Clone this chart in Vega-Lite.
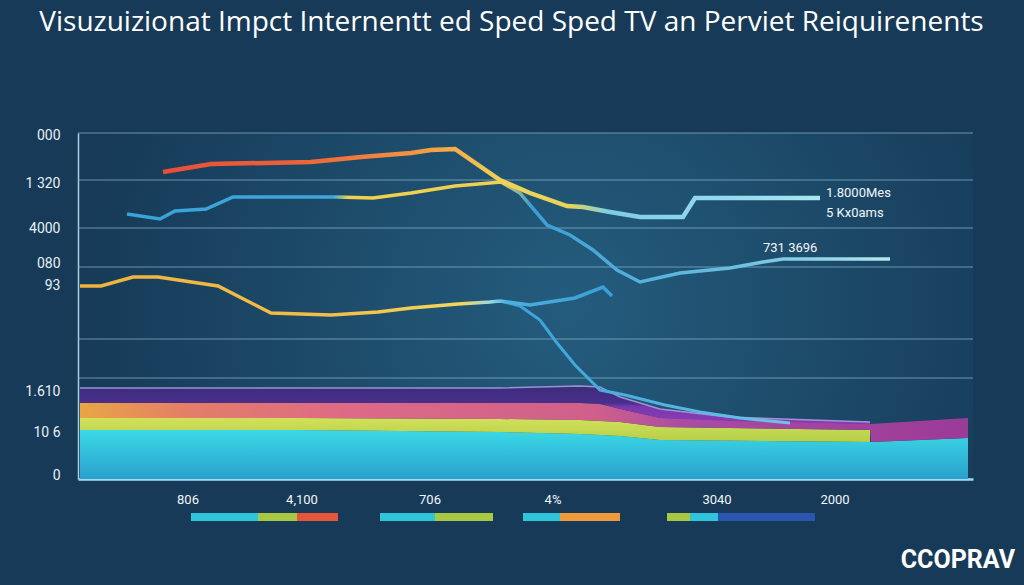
{
  "$schema": "https://vega.github.io/schema/vega-lite/v6.json",
  "width": 895,
  "height": 346,
  "autosize": {"type": "none"},
  "padding": {"left": 78, "top": 133, "right": 51, "bottom": 106},
  "background": "#163a57",
  "config": {
    "view": {
      "stroke": null,
      "fill": {"gradient": "radial", "x1": 0.55, "y1": 0.5, "r1": 0, "x2": 0.55, "y2": 0.5, "r2": 0.55,
        "stops": [{"offset": 0, "color": "#245c7d"}, {"offset": 1, "color": "#163a57"}]}
    },
    "font": "Open Sans"
  },
  "title": {
    "text": "Visuzuizionat Impct  Internentt ed Sped Sped TV an Perviet Reiquirenents",
    "fontSize": 28,
    "fontWeight": 500,
    "color": "#ffffff",
    "font": "Open Sans",
    "anchor": "middle",
    "frame": "group",
    "dx": -14,
    "offset": 91
  },
  "datasets": {
    "grid": [{"g": 346}, {"g": 299}, {"g": 251}, {"g": 212}, {"g": 140}, {"g": 101}],
    "cyan": [{"x": 2, "lo": 0, "hi": 49}, {"x": 222, "lo": 0, "hi": 49}, {"x": 422, "lo": 0, "hi": 47}, {"x": 502, "lo": 0, "hi": 45}, {"x": 542, "lo": 0, "hi": 43}, {"x": 582, "lo": 0, "hi": 39}, {"x": 792, "lo": 0, "hi": 37}, {"x": 890, "lo": 0, "hi": 41}],
    "yellow": [{"x": 2, "lo": 49, "hi": 61}, {"x": 222, "lo": 49, "hi": 61}, {"x": 422, "lo": 47, "hi": 60}, {"x": 502, "lo": 45, "hi": 59}, {"x": 542, "lo": 43, "hi": 57}, {"x": 582, "lo": 39, "hi": 52}, {"x": 792, "lo": 37, "hi": 49}],
    "pink": [{"x": 2, "lo": 61, "hi": 76}, {"x": 222, "lo": 61, "hi": 76}, {"x": 422, "lo": 60, "hi": 76}, {"x": 502, "lo": 59, "hi": 76}, {"x": 522, "lo": 58, "hi": 75}, {"x": 542, "lo": 57, "hi": 70}, {"x": 582, "lo": 52, "hi": 61}, {"x": 792, "lo": 49, "hi": 55}, {"x": 793, "lo": 37, "hi": 55}, {"x": 890, "lo": 41, "hi": 61}],
    "purple": [{"x": 2, "lo": 76, "hi": 91}, {"x": 422, "lo": 76, "hi": 91}, {"x": 502, "lo": 76, "hi": 93}, {"x": 522, "lo": 75, "hi": 92}, {"x": 542, "lo": 70, "hi": 82}, {"x": 582, "lo": 61, "hi": 70}, {"x": 650, "lo": 58, "hi": 62}, {"x": 792, "lo": 55, "hi": 57}],
    "line1": [{"x": 85, "y": 307}, {"x": 133, "y": 315}, {"x": 233, "y": 317}, {"x": 283, "y": 322}, {"x": 333, "y": 326}, {"x": 353, "y": 329}, {"x": 377, "y": 330}, {"x": 422, "y": 299}, {"x": 452, "y": 286}, {"x": 489, "y": 273}, {"x": 505, "y": 272}, {"x": 532, "y": 267}, {"x": 562, "y": 262}, {"x": 605, "y": 262}, {"x": 617, "y": 281}, {"x": 742, "y": 281}],
    "line2": [{"x": 49, "y": 265}, {"x": 82, "y": 260}, {"x": 97, "y": 268}, {"x": 128, "y": 270}, {"x": 155, "y": 282}, {"x": 258, "y": 282}, {"x": 295, "y": 281}, {"x": 333, "y": 286}, {"x": 377, "y": 293}, {"x": 423, "y": 297}, {"x": 442, "y": 286}, {"x": 469, "y": 254}, {"x": 492, "y": 244}, {"x": 515, "y": 229}, {"x": 539, "y": 209}, {"x": 562, "y": 197}, {"x": 602, "y": 206}, {"x": 652, "y": 211}, {"x": 685, "y": 217}, {"x": 705, "y": 220}, {"x": 812, "y": 220}],
    "line3": [{"x": 2, "y": 193}, {"x": 23, "y": 193}, {"x": 55, "y": 202}, {"x": 80, "y": 202}, {"x": 140, "y": 193}, {"x": 193, "y": 166}, {"x": 253, "y": 164}, {"x": 300, "y": 167}, {"x": 333, "y": 171}, {"x": 380, "y": 175}, {"x": 412, "y": 177}, {"x": 422, "y": 178}, {"x": 452, "y": 174}, {"x": 497, "y": 181}, {"x": 525, "y": 192}, {"x": 534, "y": 183}],
    "line4": [{"x": 422, "y": 178}, {"x": 442, "y": 173}, {"x": 462, "y": 159}, {"x": 479, "y": 136}, {"x": 497, "y": 114}, {"x": 512, "y": 99}, {"x": 522, "y": 89}, {"x": 547, "y": 84}, {"x": 587, "y": 74}, {"x": 622, "y": 67}, {"x": 662, "y": 61}, {"x": 712, "y": 56}],
    "bars": [
      {"k": "c", "a": 113, "b": 180}, {"k": "g", "a": 180, "b": 219}, {"k": "r", "a": 219, "b": 260},
      {"k": "c", "a": 302, "b": 357}, {"k": "g", "a": 357, "b": 415},
      {"k": "c", "a": 445, "b": 482}, {"k": "o", "a": 482, "b": 542},
      {"k": "g", "a": 589, "b": 612}, {"k": "c", "a": 612, "b": 640}, {"k": "b", "a": 640, "b": 737}
    ],
    "blabels": [{"t": "806", "x": 110}, {"t": "4,100", "x": 224}, {"t": "706", "x": 352}, {"t": "4%", "x": 475}, {"t": "3040", "x": 639}, {"t": "2000", "x": 757}],
    "notes": [{"t": "1.8000Mes", "x": 748, "y": 286}, {"t": "5 Kx0ams", "x": 748, "y": 266}, {"t": "731  3696", "x": 685, "y": 231}],
    "logo": [{"t": "CCOPRAV", "x": 937, "y": -81}]
  },
  "layer": [
    {
      "data": {"name": "grid"},
      "mark": {"type": "rule", "color": "#86b2cb", "strokeWidth": 1, "opacity": 0.75},
      "encoding": {
        "y": {"field": "g", "type": "quantitative", "scale": {"domain": [0, 346], "nice": false, "zero": false},
          "axis": {
            "title": null, "grid": false, "ticks": false, "domainColor": "#a9d0e2", "domainWidth": 1.5,
            "values": [344, 296, 251, 216, 194, 88, 47, 4],
            "labelExpr": "datum.value==344?'000':datum.value==296?'1 320':datum.value==251?'4000':datum.value==216?'080':datum.value==194?'93':datum.value==88?'1.610':datum.value==47?'10 6':'0'",
            "labelColor": "#e8f0f6", "labelFontSize": 14, "labelPadding": 18,
            "labelFont": "'Liberation Sans Narrow', Roboto, sans-serif"
          }
        }
      }
    },
    {
      "data": {"name": "cyan"},
      "mark": {"type": "area", "fill": {"gradient": "linear", "x1": 0, "y1": 0, "x2": 0, "y2": 1, "stops": [{"offset": 0, "color": "#3bd9e6"}, {"offset": 1, "color": "#2aa0cd"}]}},
      "encoding": {
        "x": {"field": "x", "type": "quantitative", "scale": {"domain": [0, 895], "nice": false, "zero": false},
          "axis": {"title": null, "labels": false, "ticks": false, "grid": false, "domainColor": "#9fdcf0", "domainWidth": 2.5}},
        "y": {"field": "hi", "type": "quantitative", "stack": null},
        "y2": {"field": "lo"}
      }
    },
    {
      "data": {"name": "yellow"},
      "mark": {"type": "area", "fill": {"gradient": "linear", "x1": 0, "y1": 0, "x2": 0, "y2": 1, "stops": [{"offset": 0, "color": "#d3e05a"}, {"offset": 1, "color": "#b3cf48"}]}},
      "encoding": {
        "x": {"field": "x", "type": "quantitative"},
        "y": {"field": "hi", "type": "quantitative", "stack": null},
        "y2": {"field": "lo"}
      }
    },
    {
      "data": {"name": "pink"},
      "mark": {"type": "area", "fill": {"gradient": "linear", "x1": 0, "y1": 0, "x2": 1, "y2": 0, "stops": [{"offset": 0, "color": "#e8a643"}, {"offset": 0.12, "color": "#e47e68"}, {"offset": 0.3, "color": "#dd6a86"}, {"offset": 0.58, "color": "#d0608a"}, {"offset": 0.68, "color": "#a94ca2"}, {"offset": 1, "color": "#9b3b98"}]}},
      "encoding": {
        "x": {"field": "x", "type": "quantitative"},
        "y": {"field": "hi", "type": "quantitative", "stack": null},
        "y2": {"field": "lo"}
      }
    },
    {
      "data": {"name": "purple"},
      "mark": {"type": "area", "fill": {"gradient": "linear", "x1": 0, "y1": 0, "x2": 0, "y2": 1, "stops": [{"offset": 0, "color": "#3b2c7c"}, {"offset": 0.45, "color": "#4a2f8a"}, {"offset": 0.55, "color": "#7a38ae"}, {"offset": 1, "color": "#8a3cb4"}]}},
      "encoding": {
        "x": {"field": "x", "type": "quantitative"},
        "y": {"field": "hi", "type": "quantitative", "stack": null},
        "y2": {"field": "lo"}
      }
    },
    {
      "data": {"name": "purple"},
      "mark": {"type": "line", "color": "#b4a8e6", "strokeWidth": 1.5, "opacity": 0.8},
      "encoding": {
        "x": {"field": "x", "type": "quantitative"},
        "y": {"field": "hi", "type": "quantitative"}
      }
    },
    {
      "data": {"name": "line4"},
      "mark": {"type": "line", "strokeWidth": 3, "stroke": {"gradient": "linear", "x1": 0, "y1": 0, "x2": 1, "y2": 0, "stops": [{"offset": 0, "color": "#3a9fd7"}, {"offset": 0.5, "color": "#4fb0e0"}, {"offset": 1, "color": "#6fc4e6"}]}},
      "encoding": {
        "x": {"field": "x", "type": "quantitative"},
        "y": {"field": "y", "type": "quantitative"}
      }
    },
    {
      "data": {"name": "line3"},
      "mark": {"type": "line", "strokeWidth": 3.5, "stroke": {"gradient": "linear", "x1": 0, "y1": 0, "x2": 1, "y2": 0, "stops": [{"offset": 0, "color": "#f0b23c"}, {"offset": 0.5, "color": "#f2c04a"}, {"offset": 0.72, "color": "#efd85e"}, {"offset": 0.77, "color": "#9fd8e0"}, {"offset": 0.8, "color": "#4eb0de"}, {"offset": 1, "color": "#3a9ed6"}]}},
      "encoding": {
        "x": {"field": "x", "type": "quantitative"},
        "y": {"field": "y", "type": "quantitative"}
      }
    },
    {
      "data": {"name": "line2"},
      "mark": {"type": "line", "strokeWidth": 3.5, "stroke": {"gradient": "linear", "x1": 0, "y1": 0, "x2": 1, "y2": 0, "stops": [{"offset": 0, "color": "#3aa2da"}, {"offset": 0.27, "color": "#3ea6da"}, {"offset": 0.29, "color": "#f0d050"}, {"offset": 0.49, "color": "#f2d04e"}, {"offset": 0.53, "color": "#3a9ed6"}, {"offset": 0.8, "color": "#6cc0e0"}, {"offset": 1, "color": "#b4e4f0"}]}},
      "encoding": {
        "x": {"field": "x", "type": "quantitative"},
        "y": {"field": "y", "type": "quantitative"}
      }
    },
    {
      "data": {"name": "line1"},
      "mark": {"type": "line", "strokeWidth": 4.5, "stroke": {"gradient": "linear", "x1": 0, "y1": 0, "x2": 1, "y2": 0, "stops": [{"offset": 0, "color": "#e84e3a"}, {"offset": 0.2, "color": "#ec6138"}, {"offset": 0.38, "color": "#f39443"}, {"offset": 0.45, "color": "#f2b24a"}, {"offset": 0.52, "color": "#efd35a"}, {"offset": 0.62, "color": "#e6d45a"}, {"offset": 0.68, "color": "#7dcde6"}, {"offset": 1, "color": "#a8e6f2"}]}},
      "encoding": {
        "x": {"field": "x", "type": "quantitative"},
        "y": {"field": "y", "type": "quantitative"}
      }
    },
    {
      "data": {"name": "bars"},
      "mark": {"type": "rect"},
      "encoding": {
        "x": {"field": "a", "type": "quantitative"},
        "x2": {"field": "b"},
        "y": {"datum": -34},
        "y2": {"datum": -42},
        "color": {"field": "k", "type": "nominal", "legend": null,
          "scale": {"domain": ["c", "g", "r", "o", "b"], "range": ["#2fc6dc", "#a8c844", "#e8553a", "#ef9a3a", "#2a56b0"]}}
      }
    },
    {
      "data": {"name": "blabels"},
      "mark": {"type": "text", "color": "#f2f6fa", "fontSize": 13, "align": "center", "baseline": "middle", "font": "'Liberation Sans Narrow', Roboto, sans-serif"},
      "encoding": {
        "x": {"field": "x", "type": "quantitative"},
        "y": {"datum": -21},
        "text": {"field": "t"}
      }
    },
    {
      "data": {"name": "notes"},
      "mark": {"type": "text", "color": "#f2f6fa", "fontSize": 13, "align": "left", "baseline": "middle", "font": "'Liberation Sans Narrow', Roboto, sans-serif"},
      "encoding": {
        "x": {"field": "x", "type": "quantitative"},
        "y": {"field": "y", "type": "quantitative"},
        "text": {"field": "t"}
      }
    },
    {
      "data": {"name": "logo"},
      "mark": {"type": "text", "color": "#ffffff", "fontSize": 25, "fontWeight": "bold", "align": "right", "baseline": "middle", "font": "'Liberation Sans Narrow', Roboto, sans-serif"},
      "encoding": {
        "x": {"field": "x", "type": "quantitative"},
        "y": {"field": "y", "type": "quantitative"},
        "text": {"field": "t"}
      }
    }
  ]
}
